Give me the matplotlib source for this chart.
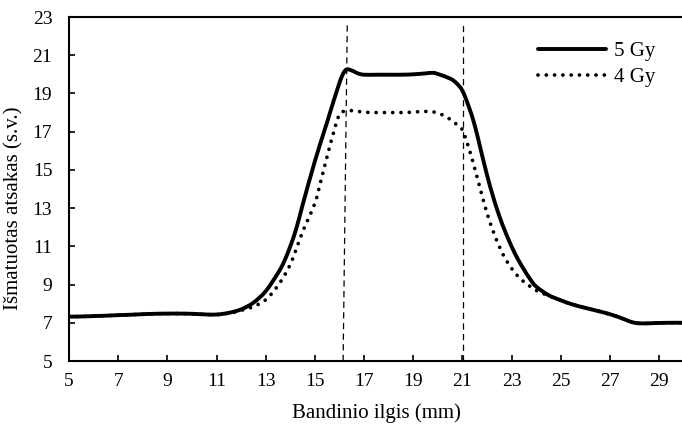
import matplotlib
matplotlib.use("Agg")
import matplotlib.pyplot as plt
from matplotlib.path import Path
from matplotlib.patches import PathPatch
from matplotlib.lines import Line2D

# ---- data ----
x_5gy = [5, 5.5, 6, 6.5, 7, 7.5, 8, 8.5, 9, 9.5, 10, 10.5, 11, 11.5, 12, 12.5, 13, 13.5,
         13.75, 14, 14.25, 14.5, 15, 15.5, 16, 16.25, 16.5, 16.75, 17, 17.5, 18, 18.5, 19,
         19.5, 19.8, 20, 20.5, 20.75, 21, 21.25, 21.5, 21.75, 22, 22.25, 22.5, 22.75, 23,
         23.25, 23.5, 23.75, 24, 24.5, 25, 25.5, 26, 26.5, 27, 27.5, 27.75, 28, 28.25, 28.5,
         29, 29.5, 30]
y_5gy = [7.32, 7.33, 7.35, 7.37, 7.40, 7.42, 7.45, 7.47, 7.48, 7.48, 7.47, 7.44, 7.43, 7.52,
         7.70, 8.05, 8.65, 9.6, 10.2, 11.0, 11.95, 13.15, 15.45, 17.5, 19.55, 20.22, 20.2,
         20.05, 19.98, 19.98, 19.98, 19.98, 20.0, 20.05, 20.08, 20.02, 19.78, 19.55, 19.15,
         18.35, 17.35, 16.05, 14.75, 13.6, 12.6, 11.75, 11.0, 10.35, 9.8, 9.3, 8.9, 8.45,
         8.18, 7.95, 7.78, 7.62, 7.45, 7.23, 7.1, 7.0, 6.97, 6.97, 6.99, 7.0, 7.0]

x_4gy = [5, 5.5, 6, 6.5, 7, 7.5, 8, 8.5, 9, 9.5, 10, 10.5, 11, 11.5, 12, 12.5, 13, 13.5,
         14, 14.5, 15, 15.25, 15.5, 15.75, 16, 16.25, 16.5, 17, 17.5, 18, 18.5, 19, 19.5,
         20, 20.5, 20.75, 21, 21.25, 21.5, 21.75, 22, 22.25, 22.5, 22.75, 23, 23.25, 23.5,
         24, 24.5, 25, 25.5, 26, 26.5, 27, 27.5, 27.75, 28, 28.25, 28.5, 29, 29.5, 30]
y_4gy = [7.32, 7.33, 7.35, 7.37, 7.40, 7.42, 7.45, 7.47, 7.48, 7.48, 7.47, 7.44, 7.43, 7.50,
         7.65, 7.85, 8.2, 8.95, 10.05, 11.75, 13.25, 14.45, 15.7, 16.9, 17.9, 18.08, 18.1,
         18.02, 18.0, 18.0, 18.0, 18.02, 18.06, 17.98, 17.65, 17.4, 17.1, 16.2, 15.1, 13.9,
         12.75, 11.8, 11.0, 10.35, 9.85, 9.45, 9.15, 8.7, 8.42, 8.18, 7.95, 7.78, 7.62, 7.45,
         7.23, 7.1, 7.0, 6.97, 6.97, 6.99, 7.0, 7.0]

vline1_x = [16.15, 16.32]
vline2_x = [21.04, 21.04]
vline_y = [5, 22.65]

x_ticks = [5, 7, 9, 11, 13, 15, 17, 19, 21, 23, 25, 27, 29]
y_ticks = [5, 7, 9, 11, 13, 15, 17, 19, 21, 23]

series_labels = ["5 Gy", "4 Gy"]
x_label = "Bandinio ilgis (mm)"
y_label = "Išmatuotas atsakas (s.v.)"


def smooth_path(xs, ys):
    """Excel-like smoothed line: Catmull-Rom through the given points, as Bezier segments."""
    pts = list(zip(xs, ys))
    verts = [pts[0]]
    codes = [Path.MOVETO]
    n = len(pts)
    for i in range(n - 1):
        p0 = pts[i - 1] if i > 0 else pts[i]
        p1 = pts[i]
        p2 = pts[i + 1]
        p3 = pts[i + 2] if i + 2 < n else pts[i + 1]
        c1 = (p1[0] + (p2[0] - p0[0]) / 6.0, p1[1] + (p2[1] - p0[1]) / 6.0)
        c2 = (p2[0] - (p3[0] - p1[0]) / 6.0, p2[1] - (p3[1] - p1[1]) / 6.0)
        verts += [c1, c2, p2]
        codes += [Path.CURVE4] * 3
    return Path(verts, codes)


# ---- figure ----
plt.rcParams['font.family'] = ['Liberation Serif', 'DejaVu Serif']
fig = plt.figure(figsize=(6.82, 4.28), dpi=100)
ax = fig.add_axes([69 / 682, 67 / 428, 614.6 / 682, 344 / 428])

ax.plot(vline1_x, vline_y, color='black', lw=0.9, dashes=(5, 3.5), zorder=1)
ax.plot(vline2_x, vline_y, color='black', lw=0.9, dashes=(5, 3.5), zorder=1)

p4 = PathPatch(smooth_path(x_4gy, y_4gy), facecolor='none', edgecolor='black',
               lw=2.7, linestyle=(0, (0.01, 2.2)), capstyle='round', zorder=2)
ax.add_patch(p4)
p5 = PathPatch(smooth_path(x_5gy, y_5gy), facecolor='none', edgecolor='black',
               lw=2.8, capstyle='round', joinstyle='round', zorder=3)
ax.add_patch(p5)

h5 = Line2D([], [], color='black', lw=2.8, solid_capstyle='round')
h4 = Line2D([], [], color='black', lw=2.7, dashes=(0.01, 2.2), dash_capstyle='round')

ax.set_xlim(5, 30)
ax.set_ylim(5, 23)
ax.set_xticks(x_ticks)
ax.set_yticks(y_ticks)
ax.tick_params(axis='both', direction='in', length=4.5, width=1.2, labelsize=14)
ax.tick_params(axis='x', pad=9)
ax.tick_params(axis='y', pad=12)

for s in ['left', 'bottom', 'top']:
    ax.spines[s].set_linewidth(1.5)
ax.spines['right'].set_visible(False)

ax.set_xlabel(x_label, fontsize=15)
ax.xaxis.label.set_va('center')
ax.xaxis.set_label_coords(0.5, (361 - 413) / 344)
ax.set_ylabel(y_label, fontsize=15)
ax.yaxis.label.set_va('center')
ax.yaxis.set_label_coords((14 - 69) / 614.6, (361 - 208) / 344)

leg = ax.legend(handles=[h5, h4], labels=series_labels, loc='upper left',
                bbox_to_anchor=(537.7 / 682, 1 - 41.5 / 428), bbox_transform=fig.transFigure,
                frameon=False, fontsize=15, handlelength=3.3, handletextpad=0.35,
                labelspacing=0.3, borderpad=0, borderaxespad=0)

fig.savefig("out.png", dpi=100)
